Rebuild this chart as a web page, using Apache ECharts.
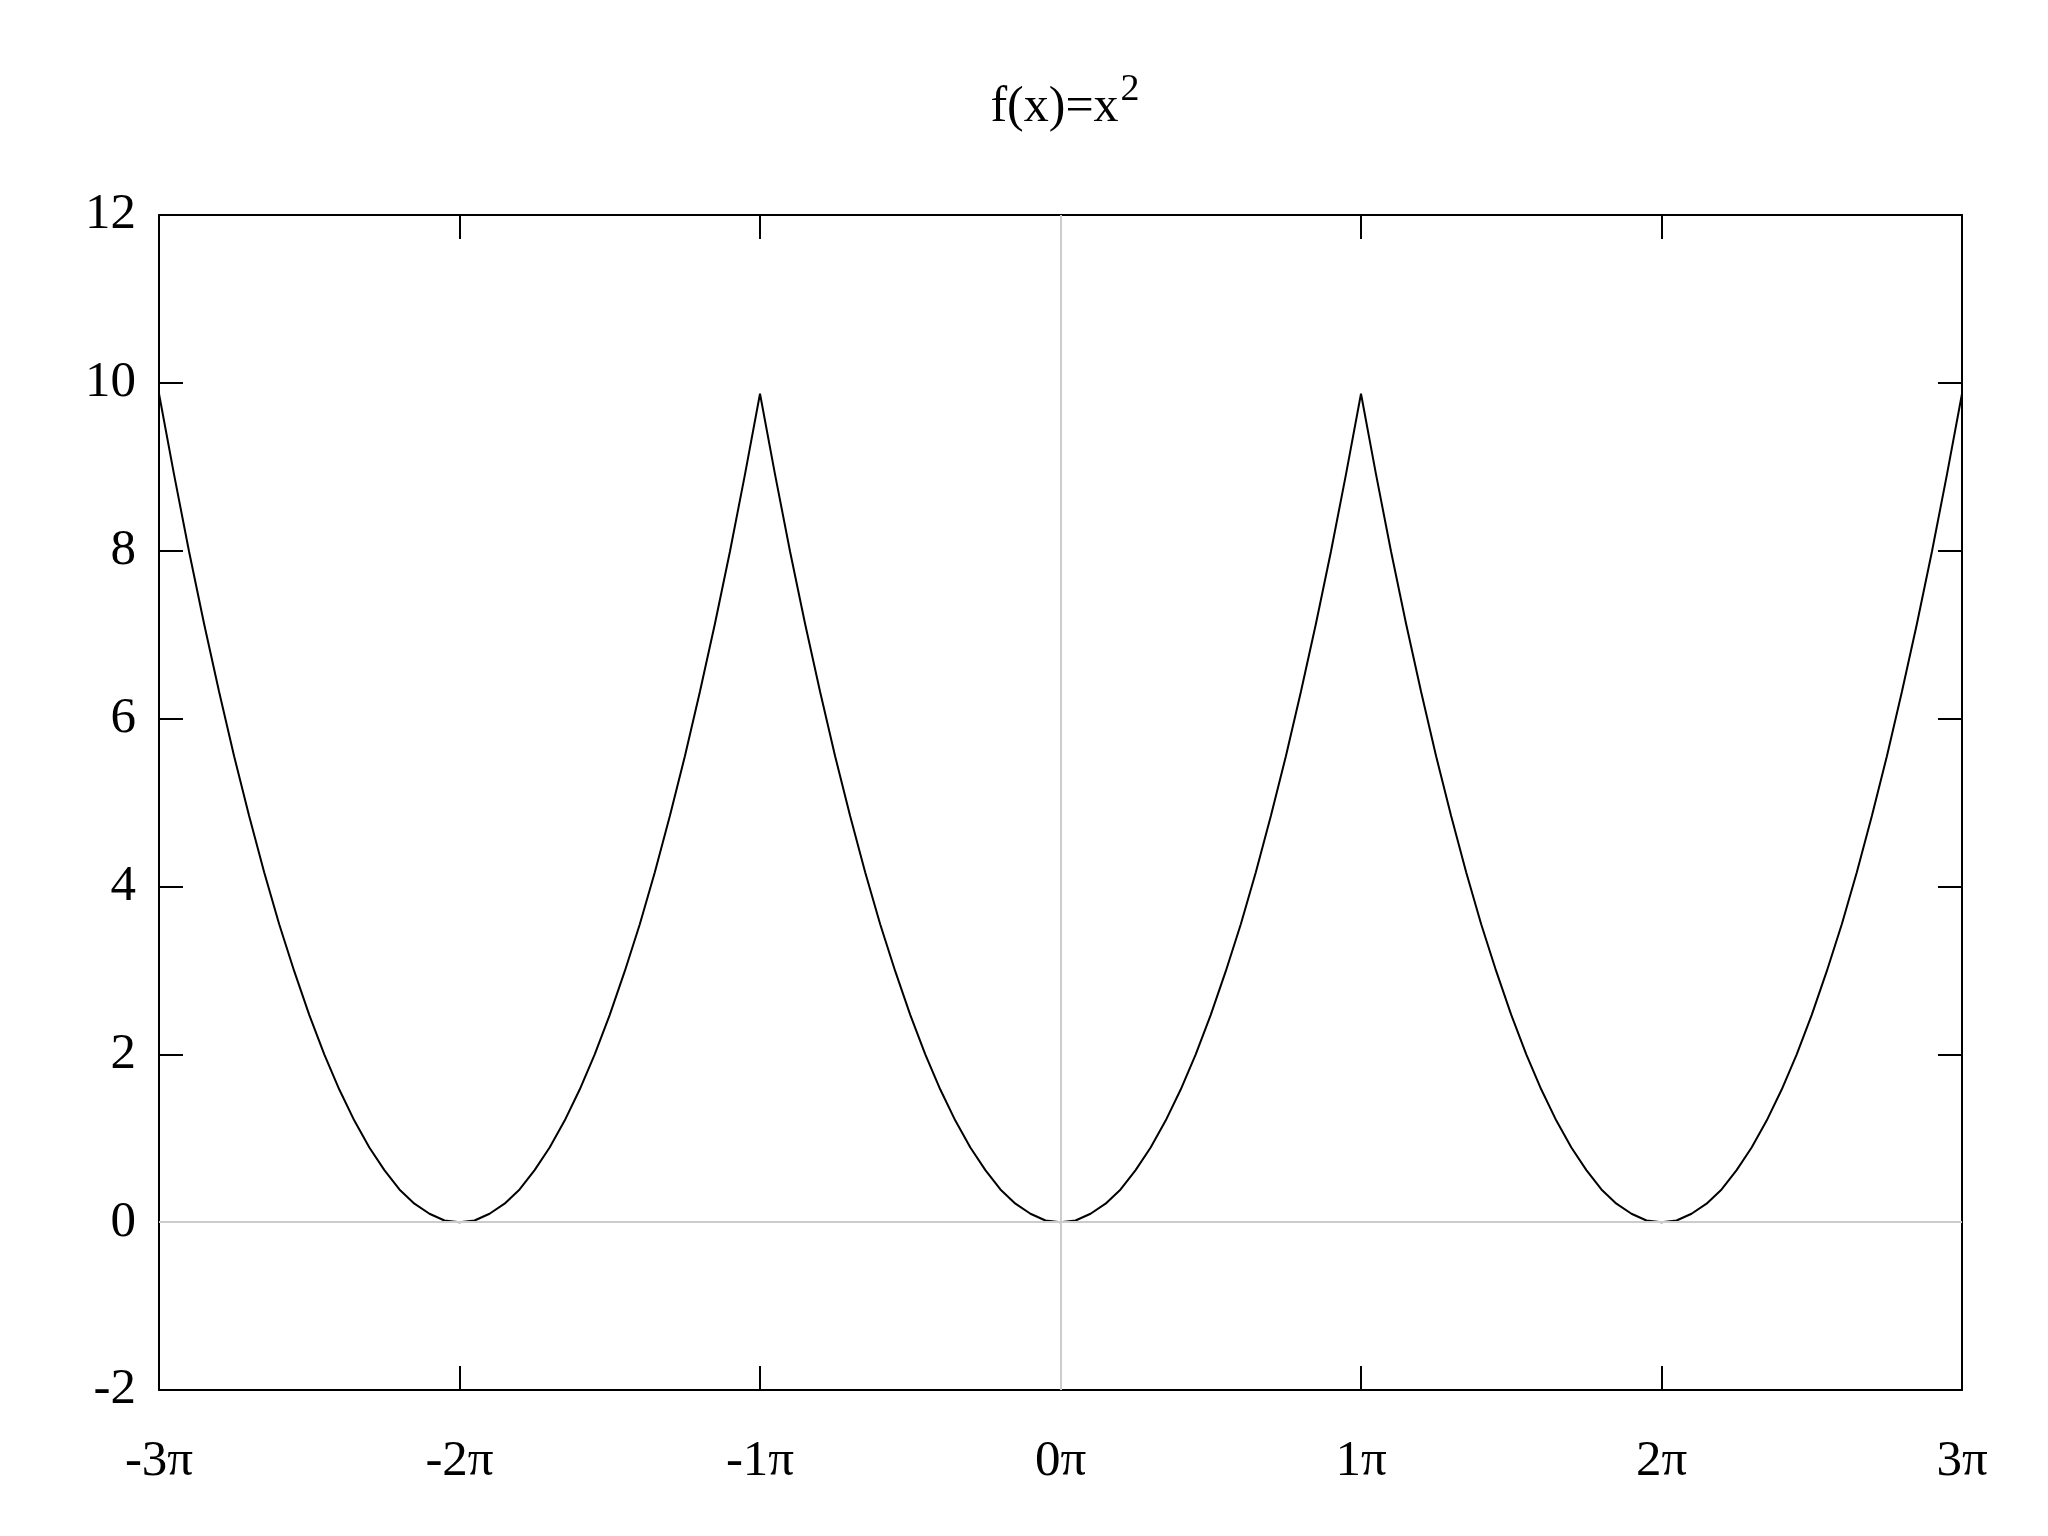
<!DOCTYPE html>
<html>
<head>
<meta charset="utf-8">
<script src="https://cdn.jsdelivr.net/npm/echarts@6/dist/echarts.min.js"></script>
<style>
html,body{margin:0;padding:0;background:#fff;}
#chart{width:2048px;height:1536px;}
</style>
</head>
<body>
<div id="chart"></div>
<script>
// x positions in units of pi
var xValues = [
 -3.00,-2.95,-2.90,-2.85,-2.80,-2.75,-2.70,-2.65,-2.60,-2.55,-2.50,-2.45,-2.40,-2.35,-2.30,-2.25,-2.20,-2.15,-2.10,-2.05,
 -2.00,-1.95,-1.90,-1.85,-1.80,-1.75,-1.70,-1.65,-1.60,-1.55,-1.50,-1.45,-1.40,-1.35,-1.30,-1.25,-1.20,-1.15,-1.10,-1.05,
 -1.00,-0.95,-0.90,-0.85,-0.80,-0.75,-0.70,-0.65,-0.60,-0.55,-0.50,-0.45,-0.40,-0.35,-0.30,-0.25,-0.20,-0.15,-0.10,-0.05,
  0.00, 0.05, 0.10, 0.15, 0.20, 0.25, 0.30, 0.35, 0.40, 0.45, 0.50, 0.55, 0.60, 0.65, 0.70, 0.75, 0.80, 0.85, 0.90, 0.95,
  1.00, 1.05, 1.10, 1.15, 1.20, 1.25, 1.30, 1.35, 1.40, 1.45, 1.50, 1.55, 1.60, 1.65, 1.70, 1.75, 1.80, 1.85, 1.90, 1.95,
  2.00, 2.05, 2.10, 2.15, 2.20, 2.25, 2.30, 2.35, 2.40, 2.45, 2.50, 2.55, 2.60, 2.65, 2.70, 2.75, 2.80, 2.85, 2.90, 2.95,
  3.00
];
var yValues = [
 9.87,8.91,7.99,7.13,6.32,5.55,4.84,4.17,3.55,2.99,2.47,2.00,1.58,1.21,0.89,0.62,0.39,0.22,0.10,0.02,
 0.00,0.02,0.10,0.22,0.39,0.62,0.89,1.21,1.58,2.00,2.47,2.99,3.55,4.17,4.84,5.55,6.32,7.13,7.99,8.91,
 9.87,8.91,7.99,7.13,6.32,5.55,4.84,4.17,3.55,2.99,2.47,2.00,1.58,1.21,0.89,0.62,0.39,0.22,0.10,0.02,
 0.00,0.02,0.10,0.22,0.39,0.62,0.89,1.21,1.58,2.00,2.47,2.99,3.55,4.17,4.84,5.55,6.32,7.13,7.99,8.91,
 9.87,8.91,7.99,7.13,6.32,5.55,4.84,4.17,3.55,2.99,2.47,2.00,1.58,1.21,0.89,0.62,0.39,0.22,0.10,0.02,
 0.00,0.02,0.10,0.22,0.39,0.62,0.89,1.21,1.58,2.00,2.47,2.99,3.55,4.17,4.84,5.55,6.32,7.13,7.99,8.91,
 9.87
];
var xTickMin = -3, xTickMax = 3, xTickStep = 1;
var yTickMin = -2, yTickMax = 12, yTickStep = 2;
var titleMain = 'f(x)=x';
var titleSup = '2';

var FONT = '"Liberation Serif", "DejaVu Serif", serif';
var data = xValues.map(function (x, i) { return [x, yValues[i]]; });

var axisLineStyle = { color: '#000', width: 2 };
var tick = { show: true, inside: true, length: 24, lineStyle: { color: '#000', width: 2 } };

var chart = echarts.init(document.getElementById('chart'), null, { renderer: 'canvas' });
chart.setOption({
  backgroundColor: '#fff',
  animation: false,
  title: {
    text: '{m|' + titleMain + '}{s|' + titleSup + '}',
    left: 1060, textAlign: 'center', top: 66,
    textStyle: {
      fontWeight: 'normal',
      rich: {
        m: { fontFamily: FONT, fontSize: 50, fontWeight: 'normal', color: '#000', verticalAlign: 'bottom', lineHeight: 62 },
        s: { fontFamily: FONT, fontSize: 38, fontWeight: 'normal', color: '#000', verticalAlign: 'top', lineHeight: 40, padding: [0, 0, 0, 2] }
      }
    }
  },
  grid: { left: 159, right: 86, top: 215, bottom: 146, containLabel: false },
  xAxis: [{
    type: 'value', min: xTickMin, max: xTickMax, interval: xTickStep, position: 'bottom',
    axisLine: { show: true, onZero: false, lineStyle: axisLineStyle },
    axisTick: tick,
    splitLine: { show: false },
    axisLabel: { margin: 46, fontFamily: FONT, fontSize: 51, color: '#000',
      formatter: function (v) { return Math.round(v) + 'π'; } }
  }, {
    type: 'value', min: xTickMin, max: xTickMax, interval: xTickStep, position: 'top',
    axisLine: { show: true, onZero: false, lineStyle: axisLineStyle },
    axisTick: tick, splitLine: { show: false }, axisLabel: { show: false }
  }],
  yAxis: [{
    type: 'value', min: yTickMin, max: yTickMax, interval: yTickStep, position: 'left',
    axisLine: { show: true, onZero: false, lineStyle: axisLineStyle },
    axisTick: tick,
    splitLine: { show: false },
    axisLabel: { margin: 23, fontFamily: FONT, fontSize: 51, color: '#000' }
  }, {
    type: 'value', min: yTickMin, max: yTickMax, interval: yTickStep, position: 'right',
    axisLine: { show: true, onZero: false, lineStyle: axisLineStyle },
    axisTick: tick, splitLine: { show: false }, axisLabel: { show: false }
  }],
  series: [{
    type: 'line', data: [], z: 1, silent: true,
    markLine: {
      silent: true, symbol: 'none', label: { show: false },
      lineStyle: { color: '#cccccc', width: 2, type: 'solid' },
      data: [{ xAxis: 0 }, { yAxis: 0 }]
    }
  }, {
    type: 'line', data: data, z: 3, showSymbol: false, symbol: 'none', smooth: false,
    lineStyle: { color: '#000', width: 2 }
  }]
});
</script>
</body>
</html>
